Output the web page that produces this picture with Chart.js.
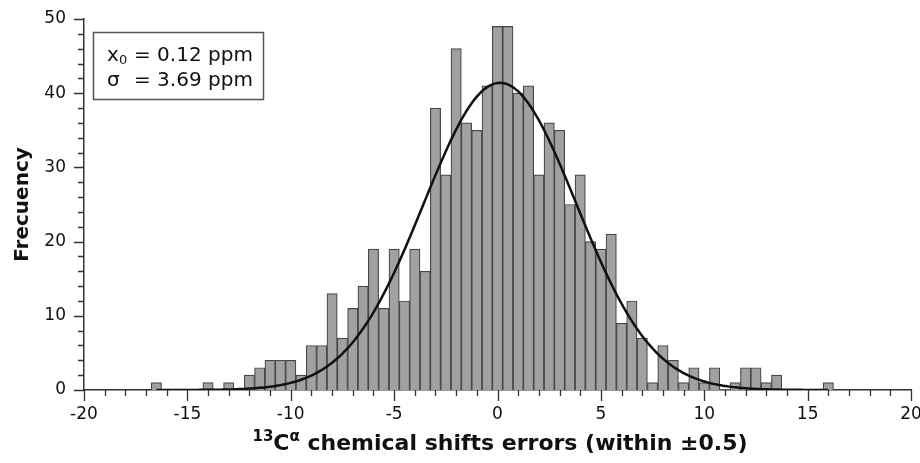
<!DOCTYPE html>
<html>
<head>
<meta charset="utf-8">
<script src="https://cdn.jsdelivr.net/npm/chart.js@4.4.1/dist/chart.umd.min.js"></script>
<style>
    html, body { margin: 0; padding: 0; background: #ffffff; }
    #wrap { width: 920px; height: 463px; }
</style>
</head>
<body>
<div id="wrap"><canvas id="hist" width="920" height="463"></canvas></div>
<script>
// histogram bins: centre of first bin and bin width (ppm)
const FIRST_BIN = -16.5;
const BIN_WIDTH = 0.5;
// counts per bin, from -16.5 to 16.0
const counts = [
    1, 0, 0, 0, 0, 1, 0, 1, 0, 2,
    3, 4, 4, 4, 2, 6, 6, 13, 7, 11,
    14, 19, 11, 19, 12, 19, 16, 38, 29, 46,
    36, 35, 41, 49, 49, 40, 41, 29, 36, 35,
    25, 29, 20, 19, 21, 9, 12, 7, 1, 6,
    4, 1, 3, 1, 3, 0, 1, 3, 3, 1,
    2, 0, 0, 0, 0, 1
];

// gaussian fit shown in the box
const FIT_X0 = 0.12;
const FIT_SIGMA = 3.69;
const FIT_PEAK = 41.4;
const FIT_FROM = -16.5;
const FIT_TO = 16;

const xTickLabels = [-20, -15, -10, -5, 0, 5, 10, 15, 20];
const yTickLabels = [0, 10, 20, 30, 40, 50];

const AXIS_COLOR = '#333333';
const TEXT_COLOR = '#111111';

Chart.defaults.font.family = "'DejaVu Sans', sans-serif";
Chart.defaults.color = TEXT_COLOR;

const barData = counts.map((c, i) => ({ x: FIRST_BIN + i * BIN_WIDTH, y: c }));

const fitData = [];
for (let x = FIT_FROM; x <= FIT_TO + 1e-9; x += 0.1) {
    const d = x - FIT_X0;
    fitData.push({ x: x, y: FIT_PEAK * Math.exp(-d * d / (2 * FIT_SIGMA * FIT_SIGMA)) });
}

// ticks (major + minor), info box and x title with superscripts
const decor = {
    id: 'decor',
    afterDraw(chart) {
        const { ctx, chartArea, scales: { x, y } } = chart;
        ctx.save();
        ctx.strokeStyle = AXIS_COLOR;
        ctx.lineWidth = 1.3;
        ctx.beginPath();
        x.ticks.forEach(t => {
            const px = Math.round(x.getPixelForValue(t.value)) + 0.5;
            const len = xTickLabels.includes(t.value) ? 11 : 6;
            ctx.moveTo(px, chartArea.bottom);
            ctx.lineTo(px, chartArea.bottom + len);
        });
        y.ticks.forEach(t => {
            const py = Math.round(y.getPixelForValue(t.value)) + 0.5;
            const len = yTickLabels.includes(t.value) ? 10 : 6;
            ctx.moveTo(chartArea.left - len, py);
            ctx.lineTo(chartArea.left, py);
        });
        ctx.stroke();

        // legend box
        ctx.fillStyle = '#ffffff';
        ctx.strokeStyle = '#555555';
        ctx.lineWidth = 1.5;
        ctx.fillRect(93.5, 32.5, 170, 67);
        ctx.strokeRect(93.5, 32.5, 170, 67);
        ctx.fillStyle = TEXT_COLOR;
        ctx.textBaseline = 'alphabetic';
        ctx.textAlign = 'left';
        ctx.font = "20px 'DejaVu Sans'";
        ctx.fillText('x', 107, 61);
        ctx.font = "13px 'DejaVu Sans'";
        ctx.fillText('0', 119, 64);
        ctx.font = "20px 'DejaVu Sans'";
        ctx.fillText('= ' + FIT_X0.toFixed(2) + ' ppm', 134, 61);
        ctx.fillText('σ', 107, 86);
        ctx.fillText('= ' + FIT_SIGMA.toFixed(2) + ' ppm', 134, 86);

        // x axis title
        const parts = [
            { t: '13', f: "bold 15px 'DejaVu Sans'", dy: -9 },
            { t: 'C', f: "bold 22px 'DejaVu Sans'", dy: 0 },
            { t: 'α', f: "bold 15px 'DejaVu Sans'", dy: -9 },
            { t: ' chemical shifts errors (within ±0.5)', f: "bold 22px 'DejaVu Sans'", dy: 0 }
        ];
        let total = 0;
        parts.forEach(p => { ctx.font = p.f; p.w = ctx.measureText(p.t).width; total += p.w; });
        let cx = 500 - total / 2;
        const base = 450;
        parts.forEach(p => { ctx.font = p.f; ctx.fillText(p.t, cx, base + p.dy); cx += p.w; });
        ctx.restore();
    }
};

new Chart(document.getElementById('hist'), {
    type: 'bar',
    plugins: [decor],
    data: {
        datasets: [
            {
                type: 'line',
                data: fitData,
                borderColor: '#111111',
                borderWidth: 2.5,
                pointRadius: 0,
                tension: 0,
                order: 0
            },
            {
                type: 'bar',
                data: barData,
                backgroundColor: '#a1a1a1',
                borderColor: '#474747',
                borderWidth: ctx => (ctx.raw && ctx.raw.y > 0 ? 1.2 : 0),
                barPercentage: 1,
                categoryPercentage: 1,
                order: 1
            }
        ]
    },
    options: {
        responsive: false,
        animation: false,
        devicePixelRatio: 1,
        layout: { padding: { left: 0, right: 9, top: 19, bottom: 0 } },
        plugins: {
            legend: { display: false },
            tooltip: { enabled: false }
        },
        scales: {
            x: {
                type: 'linear',
                min: -20,
                max: 20,
                offset: false,
                grid: { display: false, drawTicks: true, tickLength: 11 },
                border: { display: true, color: AXIS_COLOR, width: 1.5 },
                ticks: {
                    stepSize: 1,
                    autoSkip: false,
                    maxRotation: 0,
                    padding: 3,
                    color: TEXT_COLOR,
                    font: { size: 17 },
                    callback: v => (xTickLabels.includes(v) ? String(v) : '')
                },
                afterFit: s => { s.height = 73; s.paddingRight = 9; s.paddingLeft = 0; }
            },
            y: {
                min: 0,
                max: 50,
                grid: { display: false, drawTicks: true, tickLength: 10 },
                border: { display: true, color: AXIS_COLOR, width: 1.5 },
                ticks: {
                    stepSize: 2,
                    autoSkip: false,
                    padding: 8,
                    color: TEXT_COLOR,
                    font: { size: 17 },
                    callback: v => (yTickLabels.includes(v) ? String(v) : '')
                },
                title: {
                    display: true,
                    text: 'Frecuency',
                    color: TEXT_COLOR,
                    font: { size: 20, weight: 'bold' },
                    padding: { top: 11, bottom: 0 }
                },
                afterFit: s => { s.width = 84; }
            }
        }
    }
});
</script>
</body>
</html>
